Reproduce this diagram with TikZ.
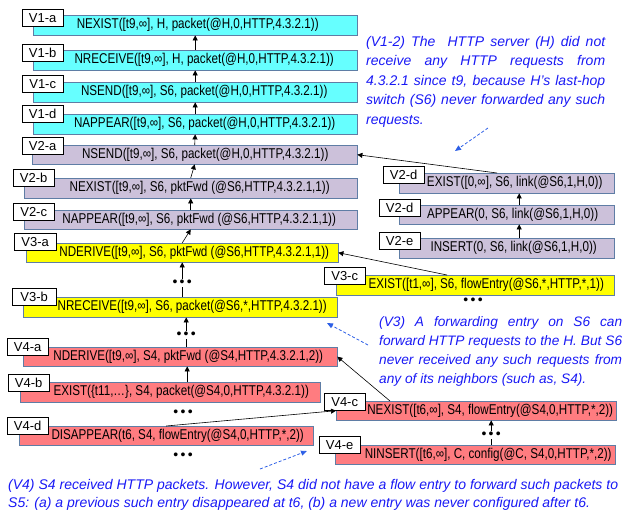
\documentclass[tikz,border=0pt]{standalone}
\usepackage{fontspec}
\setmainfont{Liberation Sans}
\newfontfamily\narrowfont[FakeStretch=0.82]{Liberation Sans}
\usetikzlibrary{arrows.meta}

\definecolor{boxline}{RGB}{95,125,165}
\definecolor{evcyan}{RGB}{102,255,255}
\definecolor{evlilac}{RGB}{204,193,218}
\definecolor{evyellow}{RGB}{255,255,0}
\definecolor{evpink}{RGB}{255,124,128}
\definecolor{notetext}{RGB}{25,25,245}
\definecolor{notearrow}{RGB}{45,95,230}

\tikzset{
  ev/.style={draw=boxline, anchor=north west, inner sep=0pt, minimum height=20pt,
    font=\narrowfont\fontsize{14.2}{14.2}\selectfont, execute at begin node={\hspace*{#1}}},
  ev/.default=18pt,
  tag/.style={draw, fill=white, anchor=north west, inner sep=0pt, minimum width=41pt,
    minimum height=17pt, font=\fontsize{13}{13}\selectfont},
  dep/.style={line width=0.6pt, -{Triangle[length=5pt,width=5pt]}},
  more/.style={inner sep=1pt, font=\fontsize{14}{14}\selectfont},
  note/.style={text=notetext, anchor=north west, inner sep=0pt, align=justify,
    font=\itshape\fontsize{14}{19.5}\selectfont},
  hint/.style={notearrow, line width=0.8pt, dash pattern=on 3pt off 2pt,
    -{Triangle[length=6pt,width=5pt]}},
}

\begin{document}
\begin{tikzpicture}[x=1pt,y=-1pt]
  \useasboundingbox (0,0) rectangle (625,515);

  % V1
  \node[ev=5pt, fill=evcyan, minimum width=324pt] (V1a) at (33,15) {NEXIST([t9,∞], H, packet(@H,0,HTTP,4.3.2.1))};
  \node[ev, fill=evcyan, minimum width=324pt] (V1b) at (33,50) {NRECEIVE([t9,∞], H, packet(@H,0,HTTP,4.3.2.1))};
  \node[ev, fill=evcyan, minimum width=324pt] (V1c) at (33,82) {NSEND([t9,∞], S6, packet(@H,0,HTTP,4.3.2.1))};
  \node[ev=19pt, fill=evcyan, minimum width=324pt] (V1d) at (33,114) {NAPPEAR([t9,∞], S6, packet(@H,0,HTTP,4.3.2.1))};

  % V2
  \node[ev=21pt, fill=evlilac, minimum width=325pt, minimum height=19pt] (V2a) at (32,145) {NSEND([t9,∞], S6, packet(@H,0,HTTP,4.3.2.1))};
  \node[ev, fill=evlilac, minimum width=333pt] (V2b) at (24,178) {NEXIST([t9,∞], S6, pktFwd (@S6,HTTP,4.3.2.1,1))};
  \node[ev=17pt, fill=evlilac, minimum width=333pt, minimum height=19pt] (V2c) at (24,210) {NAPPEAR([t9,∞], S6, pktFwd (@S6,HTTP,4.3.2.1,1))};
  \node[ev=16pt, fill=evlilac, minimum width=215pt] (V2d) at (399,173) {EXIST([0,∞], S6, link(@S6,1,H,0))};
  \node[ev=12pt, fill=evlilac, minimum width=215pt, minimum height=19pt] (V2dd) at (399,205) {APPEAR(0, S6, link(@S6,1,H,0))};
  \node[ev=14pt, fill=evlilac, minimum width=215pt] (V2e) at (399,238) {INSERT(0, S6, link(@S6,1,H,0))};

  % V3
  \node[ev=24pt, fill=evyellow, minimum width=312pt, minimum height=19pt] (V3a) at (26,243) {NDERIVE([t9,∞], S6, pktFwd (@S6,HTTP,4.3.2.1,1))};
  \node[ev=24pt, fill=evyellow, minimum width=314pt] (V3b) at (23,297) {NRECEIVE([t9,∞], S6, packet(@S6,*,HTTP,4.3.2.1))};
  \node[ev=22pt, fill=evyellow, minimum width=278pt] (V3c) at (336,275) {EXIST([t1,∞], S6, flowEntry(@S6,*,HTTP,*,1))};

  % V4
  \node[ev=16pt, fill=evpink, minimum width=314pt, minimum height=19pt] (V4a) at (23,347) {NDERIVE([t9,∞], S4, pktFwd (@S4,HTTP,4.3.2.1,2))};
  \node[ev=22pt, fill=evpink, minimum width=300pt] (V4b) at (20,382) {EXIST(\{t11,…\}, S4, packet(@S4,0,HTTP,4.3.2.1))};
  \node[ev=28pt, fill=evpink, minimum width=280pt, minimum height=19pt] (V4c) at (336,401) {NEXIST([t6,∞], S4, flowEntry(@S4,0,HTTP,*,2))};
  \node[ev=23pt, fill=evpink, minimum width=294pt, minimum height=19pt] (V4d) at (19,426) {DISAPPEAR(t6, S4, flowEntry(@S4,0,HTTP,*,2))};
  \node[ev=26pt, fill=evpink, minimum width=280pt, minimum height=19pt] (V4e) at (335,445) {NINSERT([t6,∞], C, config(@C, S4,0,HTTP,*,2))};

  % tags
  \node[tag] (tV1a) at (22,9) {V1-a};
  \node[tag] (tV1b) at (22,44) {V1-b};
  \node[tag] (tV1c) at (22,75) {V1-c};
  \node[tag] (tV1d) at (22,105) {V1-d};
  \node[tag] (tV2a) at (22,137) {V2-a};
  \node[tag] (tV2b) at (13,169) {V2-b};
  \node[tag] (tV2c) at (13,203) {V2-c};
  \node[tag] (tV2d) at (383,166) {V2-d};
  \node[tag] (tV2dd) at (379,199) {V2-d};
  \node[tag] (tV2e) at (379,232) {V2-e};
  \node[tag, minimum width=42pt] (tV3a) at (14,233) {V3-a};
  \node[tag, minimum width=44pt] (tV3b) at (12,288) {V3-b};
  \node[tag] (tV3c) at (324,267) {V3-c};
  \node[tag] (tV4a) at (7,338) {V4-a};
  \node[tag] (tV4b) at (8,374) {V4-b};
  \node[tag] (tV4c) at (324,393) {V4-c};
  \node[tag] (tV4d) at (7,417) {V4-d};
  \node[tag] (tV4e) at (319,436) {V4-e};

  % dependencies
  \draw[dep] (V1b.north) -- (V1a.south);
  \draw[dep] (V1c.north) -- (V1b.south);
  \draw[dep] (V1d.north) -- (V1c.south);
  \draw[dep] (V2a.north) -- (V1d.south);
  \draw[dep] (V2b.north) -- (V2a.south);
  \draw[dep] (V2c.north) -- (V2b.south);
  \draw[dep] (V3a.north) -- (V2c.south);
  \draw[dep] ([xshift=98pt]V2d.north west) -- (V2a.east);
  \draw[dep] ([xshift=12.5pt]V2dd.north) -- ([xshift=12.5pt]V2d.south);
  \draw[dep] ([xshift=12.5pt]V2e.north) -- ([xshift=12.5pt]V2dd.south);
  \draw[dep] ([xshift=2pt]V3b.north) -- node[more, fill=white, pos=0.4] {•\,•\,•} (V3a.south);
  \draw[dep] ([xshift=111pt]V3c.north west) -- (V3a.east);
  \draw[dep] ([xshift=6pt]V4a.north) -- node[more, fill=white, pos=0.4] {•\,•\,•} ([xshift=6pt]V3b.south);
  \draw[dep] ([xshift=17pt]V4b.north) -- ([xshift=7pt]V4a.south);
  \draw[dep] (V4d.north) -- (V4c.west);
  \draw[dep] ([xshift=54pt]V4c.north west) -- (V4a.east);
  \draw[dep] ([xshift=16pt]V4e.north) -- node[more, fill=white, pos=0.4] {•\,•\,•} ([xshift=15pt]V4c.south);

  \node[more] (m1) at (473,301) {•\,•\,•};
  \node[more] (m2) at (183,413) {•\,•\,•};
  \node[more] (m3) at (183,456) {•\,•\,•};

  % notes
  \node[note, text width=239pt] (n12) at (366,36) {(V1-2) The\ \ HTTP server (H) did not\linebreak receive any HTTP requests from\linebreak 4.3.2.1 since t9, because H's last-hop\linebreak switch (S6) never forwarded any such\linebreak requests.};
  \node[note, text width=243pt, font=\itshape\fontsize{13.7}{19.2}\selectfont] (n3) at (379,316) {(V3) A forwarding entry on S6 can\linebreak forward HTTP requests to the H. But S6\linebreak never received any such requests from\linebreak any of its neighbors (such as, S4).};
  \node[note, text width=610pt, font=\itshape\fontsize{14}{18.5}\selectfont] (n4) at (8,479) {(V4) S4 received HTTP packets. However, S4 did not have a flow entry to forward such packets to\linebreak S5: (a) a previous such entry disappeared at t6, (b) a new entry was never configured after t6.};

  \coordinate (h1a) at (488,128);
  \coordinate (h1b) at (455,151);
  \coordinate (h3a) at (368,345);
  \coordinate (h3b) at (327,323);
  \coordinate (h4a) at (260,469);
  \coordinate (h4b) at (307,451);
  \draw[hint] (h1a) -- (h1b);
  \draw[hint] (h3a) -- (h3b);
  \draw[hint] (h4a) -- (h4b);
\end{tikzpicture}
\end{document}
